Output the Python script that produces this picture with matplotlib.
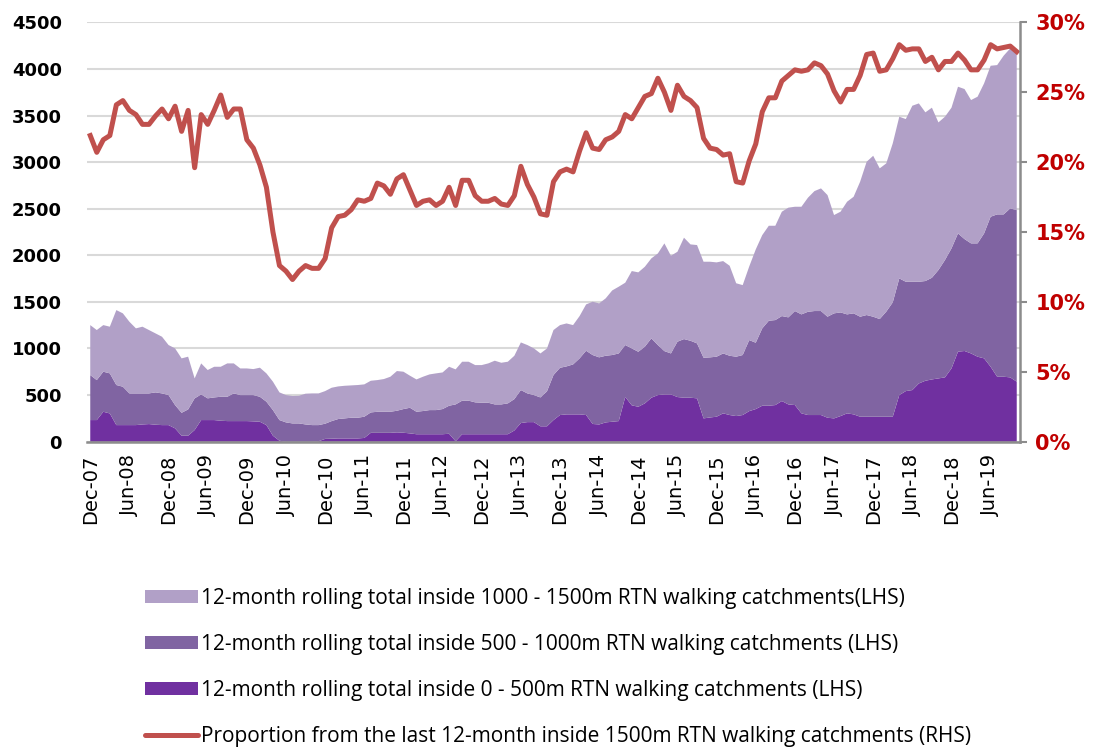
import matplotlib.pyplot as plt
import matplotlib.patches as mpatches
from matplotlib.lines import Line2D
from matplotlib.ticker import FuncFormatter
import numpy as np

# Monthly series Dec-07 .. Oct-19.
# Stacked areas are kept as their cumulative top edges (0-500, 0-1000, 0-1500m)
top_0_500 = [232, 232, 321, 303, 178, 178, 178, 178, 185, 189, 182, 178,
             178, 143, 64, 64, 125, 232, 232, 232, 225, 221, 221, 221,
             221, 218, 214, 178, 64, 10, 0, 0, 0, 0, 0, 5,
             30, 32, 35, 35, 35, 35, 40, 95, 95, 95, 95, 100,
             96, 89, 80, 80, 80, 80, 80, 85, 5, 80, 80, 80,
             80, 80, 80, 80, 80, 120, 200, 210, 210, 165, 165, 232,
             286, 293, 293, 293, 286, 190, 185, 207, 214, 221, 480, 390,
             375, 411, 472, 500, 507, 507, 479, 472, 472, 465, 250, 260,
             268, 304, 286, 275, 286, 328, 350, 386, 386, 393, 436, 400,
             393, 304, 286, 286, 286, 257, 250, 275, 304, 293, 268, 268,
             268, 268, 268, 268, 500, 543, 554, 625, 654, 668, 679, 690,
             786, 966, 973, 947, 912, 894, 804, 697, 697, 690, 644]
top_0_1000 = [715, 661, 751, 733, 608, 590, 518, 518, 518, 518, 529, 518,
              500, 393, 310, 346, 465, 507, 465, 475, 482, 482, 518, 500,
              500, 500, 482, 429, 339, 232, 207, 196, 196, 185, 178, 178,
              193, 221, 243, 250, 257, 257, 268, 314, 321, 321, 321, 332,
              350, 364, 321, 329, 339, 339, 350, 386, 400, 440, 440, 422,
              418, 418, 400, 400, 411, 457, 554, 518, 500, 475, 540, 715,
              793, 808, 829, 894, 976, 930, 905, 922, 930, 947, 1037, 1001,
              965, 1019, 1109, 1037, 972, 947, 1073, 1101, 1083, 1055, 901, 905,
              912, 947, 922, 912, 930, 1090, 1062, 1216, 1298, 1305, 1348, 1334,
              1402, 1366, 1394, 1402, 1402, 1341, 1377, 1387, 1366, 1377, 1341, 1359,
              1341, 1316, 1395, 1495, 1752, 1716, 1716, 1716, 1724, 1759, 1842, 1949,
              2074, 2235, 2174, 2128, 2128, 2235, 2414, 2439, 2439, 2503, 2485]
top_0_1500 = [1251, 1198, 1251, 1234, 1412, 1377, 1287, 1216, 1234, 1198, 1162, 1126,
              1037, 1001, 894, 912, 679, 840, 769, 804, 804, 840, 840, 786,
              786, 779, 794, 733, 644, 529, 500, 490, 493, 515, 518, 518,
              543, 579, 593, 600, 604, 608, 615, 654, 661, 672, 697, 758,
              751, 708, 668, 697, 722, 733, 743, 804, 776, 858, 858, 822,
              822, 840, 869, 847, 858, 922, 1065, 1037, 1001, 947, 1000, 1198,
              1251, 1269, 1251, 1348, 1473, 1502, 1484, 1538, 1623, 1663, 1706, 1831,
              1817, 1877, 1967, 2020, 2128, 1995, 2038, 2189, 2117, 2110, 1931, 1931,
              1924, 1938, 1888, 1700, 1680, 1880, 2063, 2217, 2317, 2317, 2468, 2511,
              2521, 2521, 2618, 2689, 2718, 2646, 2432, 2468, 2575, 2628, 2790, 3004,
              3068, 2933, 2986, 3201, 3487, 3462, 3605, 3630, 3534, 3584, 3426, 3487,
              3584, 3809, 3784, 3666, 3702, 3845, 4034, 4041, 4142, 4220, 4185]
share_1500 = [21.9, 20.7, 21.6, 21.9, 24.1, 24.4, 23.7, 23.4, 22.7, 22.7, 23.3, 23.8,
              23.1, 24.0, 22.2, 23.7, 19.6, 23.4, 22.7, 23.7, 24.8, 23.2, 23.8, 23.8,
              21.6, 21.0, 19.8, 18.2, 15.0, 12.6, 12.2, 11.6, 12.2, 12.6, 12.4, 12.4,
              13.1, 15.3, 16.1, 16.2, 16.6, 17.3, 17.2, 17.4, 18.5, 18.3, 17.7, 18.8,
              19.1, 18.0, 16.9, 17.2, 17.3, 16.9, 17.2, 18.2, 16.9, 18.7, 18.7, 17.6,
              17.2, 17.2, 17.4, 17.0, 16.9, 17.6, 19.7, 18.4, 17.5, 16.3, 16.2, 18.6,
              19.3, 19.5, 19.3, 20.8, 22.1, 21.0, 20.9, 21.6, 21.8, 22.2, 23.4, 23.1,
              23.9, 24.7, 24.9, 26.0, 25.0, 23.7, 25.5, 24.7, 24.4, 23.9, 21.7, 21.0,
              20.9, 20.5, 20.6, 18.6, 18.5, 20.1, 21.3, 23.6, 24.6, 24.6, 25.8, 26.2,
              26.6, 26.5, 26.6, 27.1, 26.9, 26.3, 25.1, 24.3, 25.2, 25.2, 26.2, 27.7,
              27.8, 26.5, 26.6, 27.4, 28.4, 28.0, 28.1, 28.1, 27.2, 27.5, 26.6, 27.2,
              27.2, 27.8, 27.3, 26.6, 26.6, 27.3, 28.4, 28.1, 28.2, 28.3, 27.9]

tick_labels = ['Dec-07', 'Jun-08', 'Dec-08', 'Jun-09', 'Dec-09', 'Jun-10',
               'Dec-10', 'Jun-11', 'Dec-11', 'Jun-12', 'Dec-12', 'Jun-13',
               'Dec-13', 'Jun-14', 'Dec-14', 'Jun-15', 'Dec-15', 'Jun-16',
               'Dec-16', 'Jun-17', 'Dec-17', 'Jun-18', 'Dec-18', 'Jun-19']

names = ['12-month rolling total inside 1000 - 1500m RTN walking catchments(LHS)',
         '12-month rolling total inside 500 - 1000m RTN walking catchments (LHS)',
         '12-month rolling total inside 0 - 500m RTN walking catchments (LHS)',
         'Proportion from the last 12-month inside 1500m RTN walking catchments (RHS)']

c_light = '#b1a0c7'
c_mid = '#8064a2'
c_dark = '#7030a0'
c_line = '#c0504d'

# individual bands from the cumulative edges
in_0_500 = np.array(top_0_500)
in_500_1000 = np.array(top_0_1000) - np.array(top_0_500)
in_1000_1500 = np.array(top_0_1500) - np.array(top_0_1000)
x = np.arange(len(top_0_500))

fig = plt.figure(figsize=(10.97, 7.49), dpi=100)
ax = fig.add_axes([0.0793, 0.4103, 0.8505, 0.5599])

ax.stackplot(x, in_0_500, in_500_1000, in_1000_1500,
             colors=[c_dark, c_mid, c_light], linewidth=0)
ax.set_xlim(-0.5, len(x) - 0.5)
ax.set_ylim(0, 4500)
ax.set_yticks(np.arange(0, 4501, 500))
ax.set_axisbelow(True)
ax.grid(axis='y', color='#d9d9d9', linewidth=1.5)
ax.set_xticks(np.arange(0, len(x), 6))
ax.set_xticklabels(tick_labels, rotation=90, fontsize=14, family='DejaVu Sans')
ax.tick_params(axis='x', length=0, pad=9)
ax.tick_params(axis='y', length=0, pad=18)
for lab in ax.get_yticklabels():
    lab.set_fontsize(13)
    lab.set_fontweight('bold')
for s in ['left', 'top', 'right']:
    ax.spines[s].set_visible(False)
ax.spines['bottom'].set_color('#8c8c8c')
ax.spines['bottom'].set_linewidth(1.8)

ax2 = ax.twinx()
ax2.plot(x, share_1500, color=c_line, linewidth=3.6, solid_joinstyle='round')
ax2.set_ylim(0, 30)
ax2.set_yticks(np.arange(0, 31, 5))
ax2.yaxis.set_major_formatter(FuncFormatter(lambda v, p: '%d%%' % v))
ax2.tick_params(axis='y', colors='#8c8c8c', labelcolor='#c00000', length=5,
                width=1.5, pad=6, direction='out')
for lab in ax2.get_yticklabels():
    lab.set_fontsize(15)
    lab.set_fontweight('bold')
for s in ['left', 'top', 'bottom']:
    ax2.spines[s].set_visible(False)
ax2.spines['right'].set_color('#8c8c8c')
ax2.spines['right'].set_linewidth(1.8)

handles = [mpatches.Patch(facecolor=c_light, edgecolor='none'),
           mpatches.Patch(facecolor=c_mid, edgecolor='none'),
           mpatches.Patch(facecolor=c_dark, edgecolor='none'),
           Line2D([], [], color=c_line, linewidth=3.6, solid_capstyle='round')]
fig.legend(handles, names, loc='upper left', bbox_to_anchor=(0.132, 0.2155),
           frameon=False, borderpad=0, borderaxespad=0,
           prop={'family': ['Open Sans', 'DejaVu Sans'], 'size': 15},
           handlelength=2.55, handleheight=0.62, handletextpad=0.15,
           labelspacing=1.2)

fig.savefig('out.png', dpi=100)
